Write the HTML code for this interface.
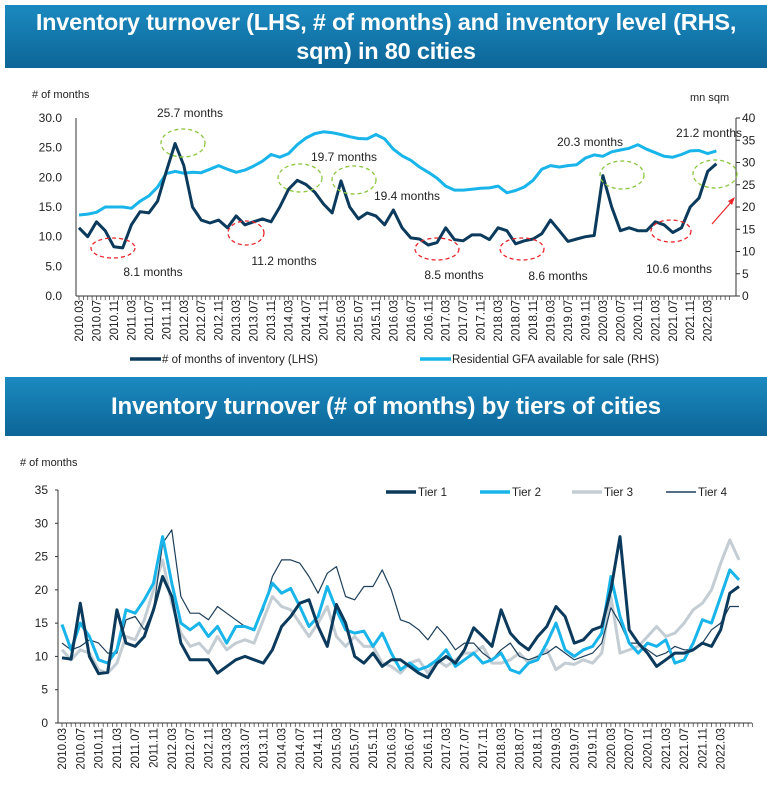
<!DOCTYPE html>
<html><head><meta charset="utf-8">
<style>
html,body{margin:0;padding:0;background:#fff;}
body{width:767px;height:788px;position:relative;overflow:hidden;font-family:"Liberation Sans",sans-serif;}
.banner{position:absolute;left:5px;right:0;background:linear-gradient(#1b8ac0,#0d6597);color:#fff;font-family:"Liberation Sans Narrow","Liberation Sans",sans-serif;font-weight:bold;text-align:center;}
svg{position:absolute;left:0;top:0;}
svg text{font-family:"Liberation Sans Narrow","Liberation Sans",sans-serif;fill:#222;}
</style></head><body>
<div class="banner" style="top:5px;height:63px;font-size:23.5px;letter-spacing:-0.2px;line-height:29px;padding-top:3px;box-sizing:border-box;">Inventory turnover (LHS, # of months) and inventory level (RHS,<br>sqm) in 80 cities</div>
<div class="banner" style="top:377px;height:59px;font-size:24px;letter-spacing:-0.2px;line-height:59px;">Inventory turnover (# of months) by tiers of cities</div>
<svg id="chart" width="767" height="788"></svg>
<script>
// ---- Top chart data (bimonthly from 2010.03) ----
const monthsLHS = [11.5,10,12.5,11,8.3, 8.1,12,14.2,14,16, 21,25.7,22,15,12.8, 12.3,12.8,11.5,13.5,12, 12.5,13,12.5,15,18, 19.5,18.8,17.5,15.5,14, 19.4,15,13,14,13.5, 12,14.5,11.5,9.8,9.6, 8.6,9,11.5,9.5,9.3, 10.3,10.3,9.5,11.5,11, 8.8,9.3,9.6,10.5,12.8, 11,9.2,9.6,10,10.2, 20.3,15,11,11.5,11, 11,12.5,12,10.7,11.5, 15,16.5,21,22.3];
const gfaRHS = [18.2,18.4,18.8,20,20, 20,19.7,21.3,22.5,24.5, 27.5,28,27.6,27.8,27.7, 28.5,29.3,28.5,27.8,28.3, 29.2,30.3,31.8,31.2,32, 34,35.5,36.5,36.9,36.7, 36.3,35.8,35.4,35.3,36.3, 35.3,33,31.5,30.5,29, 27.8,26.5,24.7,23.8,23.8, 24,24.2,24.3,24.7,23.2, 23.7,24.5,26,28.5,29.3, 29,29.3,29.5,31,31.7, 31.4,32.4,32.8,33.2,34, 33,32.2,31.4,31.2,31.8, 32.6,32.7,32,32.6];
const leftTicks = ["0.0","5.0","10.0","15.0","20.0","25.0","30.0"];
const rightTicks = ["0","5","10","15","20","25","30","35","40"];
// ---- Bottom chart data (bimonthly from 2010.03) ----
const tierNames = ["Tier 1","Tier 2","Tier 3","Tier 4"];
const tier1 = [9.8,9.6,18,10,7.4, 7.6,17,12,11.5,13, 17,22,19,12,9.5, 9.5,9.5,7.5,8.5,9.5, 10,9.5,9,11,14.5, 16,18,18.5,14.5,11.5, 17.8,15,10,9,10.5, 8.5,9.5,9.5,8.5,7.5, 6.8,9,10,9,11, 14.3,13,11.5,17,13.5, 12,11,13,14.5,17.5, 16,12,12.5,14,14.5, 20,28,14,12,10.5, 8.5,9.5,10.5,10.5,11, 12,11.5,14,19.5,20.5];
const tier2 = [14.8,11,15,13,9.5, 9,11,17,16.5,18.5, 21,28,21,15,14, 15,13,14.5,12,14.5, 14.5,14,17.5,21,19.5, 20.2,17.5,14.5,16,20.5, 17,14,13.5,13.8,11.5, 13.5,10.5,8,9,8, 8.5,9.5,11,8.5,9.5, 10.5,9,9.5,10.5,8, 7.5,9,9.5,12,15, 11,10,11,11.5,13.5, 22,16,12,10.5,12, 11.5,12.5,9,9.5,12, 15.5,15,19,23,21.5];
const tier3 = [11,9.5,11,10.5,8, 7.5,9,13,12.5,15.5, 20,24.5,18,13.5,11.5, 12,10.5,13,11,12, 12.5,12,15.5,19,17.5, 17,15,13,15,17.5, 13,11.5,13,11.5,11.5, 9,8.5,7.5,9,9.5, 7.5,9.5,8.5,9.5,10.5, 10.5,11.5,9,9,9.5, 10.5,9,10,11,8, 9,8.8,9.5,9,10.5, 19,10.5,11,11.5,13, 14.5,13,13.5,15,17, 18,20,24,27.5,24.5];
const tier4 = [12,11,11.5,12.5,12, 10.5,10.5,15.5,16,14, 17,27,29,19,16.5, 16.5,15.5,17.5,16.5,15.5, 14.5,14,17,22,24.5, 24.5,24,22,19.5,22.5, 23.5,19,18.5,20.5,20.5, 23,20,15.5,15,14, 12.5,14.5,13,11,12, 12,10.5,9.5,11,12, 10,9.5,10,10.5,11.5, 10.5,9.5,10,10.5,12, 17.3,15,12,12,11, 10,10.5,11.5,11,11, 12,14,15,17.5,17.5];
const bottomTicks = ["0","5","10","15","20","25","30","35"];

const NS="http://www.w3.org/2000/svg";
const svg=document.getElementById('chart');
function mk(tag,attrs,parent){const e=document.createElementNS(NS,tag);for(const k in attrs)e.setAttribute(k,attrs[k]);(parent||svg).appendChild(e);return e;}
function monthLabel(m){const t=2+m;const y=2010+Math.floor(t/12);const mo=t%12+1;return y+"."+(mo<10?"0":"")+mo;}

// ===== TOP CHART =====
const T={x0:76,x1:736,y0:296,y1:118,mx0:79,mstep:4.366};
const tx=m=>T.mx0+m*T.mstep;
const tyL=v=>T.y0-(v/30)*(T.y0-T.y1);
const tyR=v=>T.y0-(v/40)*(T.y0-T.y1);
let g=mk('g',{});


let t=mk('text',{x:32,y:98,'font-size':11},g);t.textContent="# of months";

t=mk('text',{x:690,y:101,'font-size':11},g);t.textContent="mn sqm";

let ax=mk('line',{x1:T.x0,y1:T.y1,x2:T.x0,y2:T.y0,stroke:'#333','stroke-width':1},g);

ax=mk('line',{x1:T.x1,y1:T.y1,x2:T.x1,y2:T.y0,stroke:'#333','stroke-width':1},g);

ax=mk('line',{x1:T.x0,y1:T.y0,x2:T.x1,y2:T.y0,stroke:'#333','stroke-width':1},g);

leftTicks.forEach((s,i)=>{const v=parseFloat(s);const y=tyL(v);
 const tt=mk('text',{x:62,y:y+4,'font-size':12,'text-anchor':'end'},g);tt.textContent=s;
 });
rightTicks.forEach(s=>{const v=parseFloat(s);const y=tyR(v);
 mk('line',{x1:T.x1,y1:y,x2:T.x1+4,y2:y,stroke:'#333'},g);
 const tt=mk('text',{x:742,y:y+4,'font-size':12},g);tt.textContent=s;
 });
for(let m=0;m<=149;m++){mk('line',{x1:tx(m),y1:T.y0,x2:tx(m),y2:T.y0+4,stroke:'#333','stroke-width':0.7},g);}
for(let m=0;m<=144;m+=4){const x=tx(m);
 const tt=mk('text',{x:0,y:0,'font-size':11.5,'text-anchor':'end',transform:`translate(${x+4},${T.y0+4}) rotate(-90)`},g);
 tt.textContent=monthLabel(m);
 }
function path(arr,fx,fy){return arr.map((v,i)=>(i?'L':'M')+fx(i*2).toFixed(1)+','+fy(v).toFixed(1)).join(' ');}
let p=mk('path',{d:path(gfaRHS,tx,tyR),fill:'none',stroke:'#19b5ea','stroke-width':3,'stroke-linejoin':'round'},g);

p=mk('path',{d:path(monthsLHS,tx,tyL),fill:'none',stroke:'#0b3a5c','stroke-width':3,'stroke-linejoin':'round'},g);

// annotations
const greens=[[183,143],[300,178],[354,180],[622,175],[715,174]];
greens.forEach(c=>{const e=mk('ellipse',{cx:c[0],cy:c[1],rx:22,ry:14,fill:'none',stroke:'#8cc63f','stroke-width':1.3,'stroke-dasharray':'4,3'},g);
 });
const reds=[[113,248,22,10],[246,233,18,12],[437,249,22,11],[522,249,22,11],[671,231,20,11]];
reds.forEach(c=>{const e=mk('ellipse',{cx:c[0],cy:c[1],rx:c[2],ry:c[3],fill:'none',stroke:'#e8262b','stroke-width':1.3,'stroke-dasharray':'4,3'},g);
 });
const notes=[["25.7 months",190,117],["19.7 months",344,161],["19.4 months",407,200],["20.3 months",590,146],["21.2 months",709,137],["8.1 months",153,276],["11.2 months",284,265],["8.5 months",454,279],["8.6 months",558,280],["10.6 months",679,273]];
notes.forEach(n=>{const tt=mk('text',{x:n[1],y:n[2],'font-size':12,'text-anchor':'middle'},g);tt.textContent=n[0];
 });
let ar=mk('line',{x1:712,y1:224,x2:733,y2:200,stroke:'#e8262b','stroke-width':1.2},g);

mk('polygon',{points:'735,197 728,201 732,205',fill:'#e8262b'},g);
// legend
let lg=mk('line',{x1:130,y1:359,x2:161,y2:359,stroke:'#0b3a5c','stroke-width':3.5},g);

t=mk('text',{x:162,y:363,'font-size':11.5},g);t.textContent="# of months of inventory (LHS)";

lg=mk('line',{x1:420,y1:359,x2:451,y2:359,stroke:'#19b5ea','stroke-width':3.5},g);

t=mk('text',{x:452,y:363,'font-size':11.5},g);t.textContent="Residential GFA available for sale (RHS)";


// ===== BOTTOM CHART =====
const B={x0:58,x1:752,y0:723,y1:490,mx0:62,mstep:4.574};
const bx=m=>B.mx0+m*B.mstep;
const by=v=>B.y0-(v/35)*(B.y0-B.y1);
let g2=mk('g',{});


t=mk('text',{x:20,y:466,'font-size':11},g2);t.textContent="# of months";

ax=mk('line',{x1:B.x0,y1:B.y1,x2:B.x0,y2:B.y0,stroke:'#333'},g2);

ax=mk('line',{x1:B.x0,y1:B.y0,x2:B.x1,y2:B.y0,stroke:'#333'},g2);

bottomTicks.forEach(s=>{const y=by(parseFloat(s));
 mk('line',{x1:B.x0-3,y1:y,x2:B.x0,y2:y,stroke:'#333'},g2);
 const tt=mk('text',{x:48,y:y+4,'font-size':12,'text-anchor':'end'},g2);tt.textContent=s;
 });
for(let m=0;m<=151;m++){mk('line',{x1:bx(m),y1:B.y0,x2:bx(m),y2:B.y0+4,stroke:'#333','stroke-width':0.7},g2);}
for(let m=0;m<=144;m+=4){const x=bx(m);
 const tt=mk('text',{x:0,y:0,'font-size':11.5,'text-anchor':'end',transform:`translate(${x+4},${B.y0+5}) rotate(-90)`},g2);
 tt.textContent=monthLabel(m);
 }
const tierData=[tier1,tier2,tier3,tier4];
const tierColors=['#0b3a5c','#19b5ea','#c3cdd3','#1d3f5a'];
const tierWidths=[3,3,3,1.2];
const drawOrder=[2,3,1,0];
drawOrder.forEach(i=>{const pp=mk('path',{d:path(tierData[i],bx,by),fill:'none',stroke:tierColors[i],'stroke-width':tierWidths[i],'stroke-linejoin':'round'},g2);
 });
const legX=[386,480,572,666];
tierNames.forEach((n,i)=>{const l=mk('line',{x1:legX[i],y1:492,x2:legX[i]+30,y2:492,stroke:tierColors[i],'stroke-width':i==3?1.5:3.5},g2);
 
 const tt=mk('text',{x:legX[i]+32,y:496,'font-size':11.5},g2);tt.textContent=n;
 });
</script>
</body></html>
